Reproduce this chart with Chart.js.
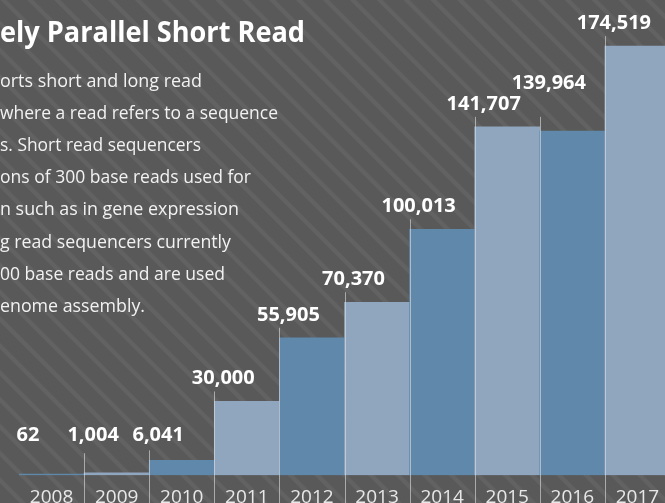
<!DOCTYPE html>
<html>
<head>
<meta charset="utf-8">
<script src="https://cdn.jsdelivr.net/npm/chart.js@4.4.0/dist/chart.umd.min.js"></script>
<style>
  html, body { margin:0; padding:0; }
  body {
    width:665px; height:503px; overflow:hidden; position:relative;
    background-color:#595959;
    background-image: repeating-linear-gradient(45deg, #595959 0px, #595959 13.5px, #626262 14.5px, #626262 17.5px, #595959 19px);
    font-family: "Open Sans", sans-serif;
  }
  #wrap { position:absolute; left:0; top:0; width:700px; height:526px; }
  .t { position:absolute; left:0; white-space:nowrap; transform-origin:0 0; color:#f2f2f2; line-height:1; }
  .title { font-weight:700; font-size:28px; color:#ffffff; }
  .p { font-size:18.5px; }
</style>
</head>
<body>
<div id="wrap"><canvas id="c" width="700" height="526"></canvas></div>
<div class="t title" data-w="305" data-b="42">ely Parallel Short Read</div>
<div class="t p" data-w="202" data-b="87">orts short and long read</div>
<div class="t p" data-w="278" data-b="119">where a read refers to a sequence</div>
<div class="t p" data-w="201" data-b="151">s. Short read sequencers</div>
<div class="t p" data-w="251" data-b="183">ons of 300 base reads used for</div>
<div class="t p" data-w="239" data-b="215">n such as in gene expression</div>
<div class="t p" data-w="231" data-b="248">g read sequencers currently</div>
<div class="t p" data-w="225" data-b="280">00 base reads and are used</div>
<div class="t p" data-w="145" data-b="312">enome assembly.</div>
<script>
const years = ['2008','2009','2010','2011','2012','2013','2014','2015','2016','2017'];
const counts = [62, 1004, 6041, 30000, 55905, 70370, 100013, 141707, 139964, 174519];
const countLabels = ['62','1,004','6,041','30,000','55,905','70,370','100,013','141,707','139,964','174,519'];

// place / fit overlay text
document.querySelectorAll('.t').forEach(el => {
  const fs = parseFloat(getComputedStyle(el).fontSize);
  const b = parseFloat(el.dataset.b);
  el.style.top = (b - 0.888 * fs) + 'px';
  const w = el.getBoundingClientRect().width;
  const target = parseFloat(el.dataset.w);
  el.style.transform = 'scaleX(' + (target / w) + ')';
});

const LIGHT = '#8fa6be';
const DARK = '#5f88ab';

const annotate = {
  id: 'annotate',
  afterDatasetsDraw(chart) {
    const ctx = chart.ctx;
    const meta = chart.getDatasetMeta(0);
    const bars = meta.data;
    const base = chart.scales.y.getPixelForValue(0);
    ctx.save();
    // separators
    ctx.strokeStyle = 'rgba(225,225,225,0.6)';
    ctx.lineWidth = 1;
    for (let i = 1; i <= bars.length; i++) {
      const prev = bars[i - 1];
      const cur = bars[i];
      const x = cur ? (prev.x + prev.width / 2 + cur.x - cur.width / 2) / 2 : prev.x + prev.width / 2;
      let top = Math.min(prev.y, cur ? cur.y : prev.y) - 10;
      top = Math.min(top, base - 22);
      const xx = Math.round(x) + 0.5;
      ctx.beginPath();
      ctx.moveTo(xx, top);
      ctx.lineTo(xx, chart.height);
      ctx.stroke();
    }
    // value labels
    ctx.font = 'bold 20px "Open Sans", sans-serif';
    ctx.fillStyle = '#ffffff';
    ctx.textAlign = 'center';
    ctx.textBaseline = 'alphabetic';
    const h = 15;
    let prevBox = null;
    bars.forEach((bar, i) => {
      const left = bar.x - bar.width / 2;
      const cx = left + 9;
      const txt = countLabels[i];
      const w = ctx.measureText(txt).width;
      let y = Math.min(bar.y - 17, base - 34);
      if (prevBox && cx - w / 2 < prevBox.r + 2 && y > prevBox.top - 2 && y - h < prevBox.bottom) {
        y = prevBox.top - 6;
      }
      ctx.fillText(txt, cx, y);
      prevBox = { r: cx + w / 2, top: y - h, bottom: y };
    });
    ctx.restore();
  }
};

new Chart(document.getElementById('c'), {
  type: 'bar',
  data: {
    labels: years,
    datasets: [{
      data: counts,
      backgroundColor: counts.map((_, i) => i % 2 === 0 ? DARK : LIGHT),
      borderWidth: 0,
      barPercentage: 1,
      categoryPercentage: 1,
      minBarLength: 1
    }]
  },
  options: {
    responsive: false,
    animation: false,
    devicePixelRatio: 1,
    layout: { padding: { left: 19, right: 30, top: 0, bottom: 14 } },
    plugins: { legend: { display: false }, tooltip: { enabled: false } },
    scales: {
      x: {
        grid: { display: false },
        border: { display: false },
        ticks: { color: '#e8e8e8', font: { family: 'Open Sans', size: 19 }, padding: 3, maxRotation: 0, autoSkip: false }
      },
      y: { display: false, min: 0, max: 193300 }
    }
  },
  plugins: [annotate]
});
</script>
</body>
</html>
